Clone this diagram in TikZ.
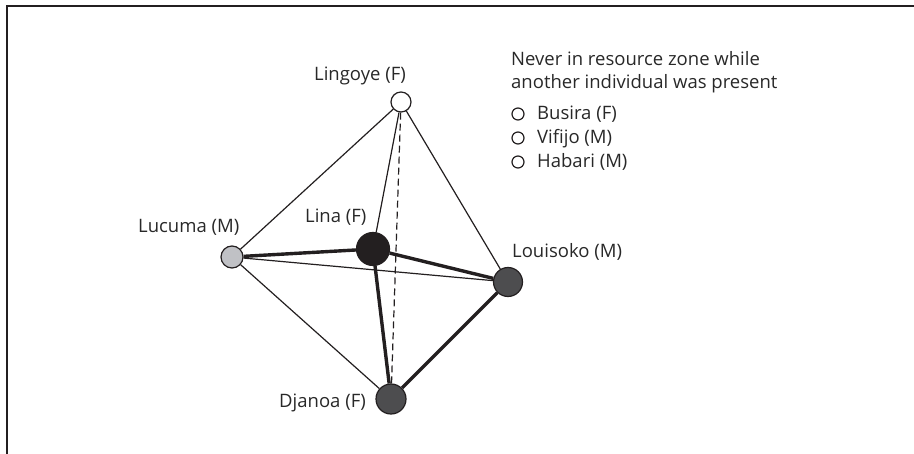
\documentclass[tikz,border=0pt]{standalone}
\usepackage{fontspec}
\setmainfont{Open Sans}
\definecolor{lucfill}{RGB}{192,193,197}
\definecolor{darkfill}{RGB}{77,77,79}
\definecolor{blackfill}{RGB}{35,31,32}
\definecolor{linec}{RGB}{35,31,32}
\definecolor{textc}{RGB}{40,40,40}
\tikzset{
  ind/.style={circle, draw=linec, line width=1.2pt, inner sep=0pt},
  thinedge/.style={draw=linec, line width=1.2pt},
  thickedge/.style={draw=linec, line width=3.4pt},
  dashedge/.style={draw=linec, line width=1.2pt, dash pattern=on 7pt off 4pt},
  lbl/.style={font=\fontsize{18.5}{22}\selectfont, text=textc, inner sep=0pt},
  legdot/.style={circle, draw=linec, line width=1.2pt, fill=white, minimum size=12pt, inner sep=0pt}
}
\begin{document}
\begin{tikzpicture}[x=1pt,y=-1pt]
\useasboundingbox (0,0) rectangle (914,454);
\coordinate (tl) at (7,6);
\coordinate (tr) at (914,6);
\coordinate (bl) at (7,454);
\draw[line width=2pt, linec] (tr) -- (tl) -- (bl);

\node[ind, fill=white, minimum size=20pt] (lingoye) at (401,102) {};
\node[ind, fill=lucfill, minimum size=22pt] (lucuma) at (232,257) {};
\node[ind, fill=blackfill, minimum size=33pt] (lina) at (373,249) {};
\node[ind, fill=darkfill, minimum size=29pt] (louisoko) at (508,282) {};
\node[ind, fill=darkfill, minimum size=30pt] (djanoa) at (391,399) {};

\draw[thinedge] (lingoye) -- (lucuma);
\draw[thinedge] (lingoye) -- (lina);
\draw[thinedge] (lingoye) -- (louisoko);
\draw[dashedge] (lingoye) -- (djanoa);
\draw[thinedge] (lucuma) -- (louisoko);
\draw[thinedge] (lucuma) -- (djanoa);
\draw[thickedge] (lucuma) -- (lina);
\draw[thickedge] (lina) -- (louisoko);
\draw[thickedge] (lina) -- (djanoa);
\draw[thickedge] (louisoko) -- (djanoa);

\node[lbl, anchor=base west] (lLingoye) at (314,81) {Lingoye (F)};
\node[lbl, anchor=base west] (lLucuma) at (138,233) {Lucuma (M)};
\node[lbl, anchor=base west] (lLina) at (305,223) {Lina (F)};
\node[lbl, anchor=base west] (lLouisoko) at (512,258) {Louisoko (M)};
\node[lbl, anchor=base east] (lDjanoa) at (366,408) {Djanoa (F)};

\node[lbl, anchor=base west] (h1) at (511,66) {Never in resource zone while};
\node[lbl, anchor=base west] (h2) at (511,89) {another individual was present};
\node[legdot] (d1) at (518,114) {};
\node[legdot] (d2) at (518,138) {};
\node[legdot] (d3) at (518,162) {};
\node[lbl, anchor=base west] (t1) at (537,120) {Busira (F)};
\node[lbl, anchor=base west] (t2) at (537,144) {Vifijo (M)};
\node[lbl, anchor=base west] (t3) at (537,168) {Habari (M)};
\end{tikzpicture}
\end{document}
